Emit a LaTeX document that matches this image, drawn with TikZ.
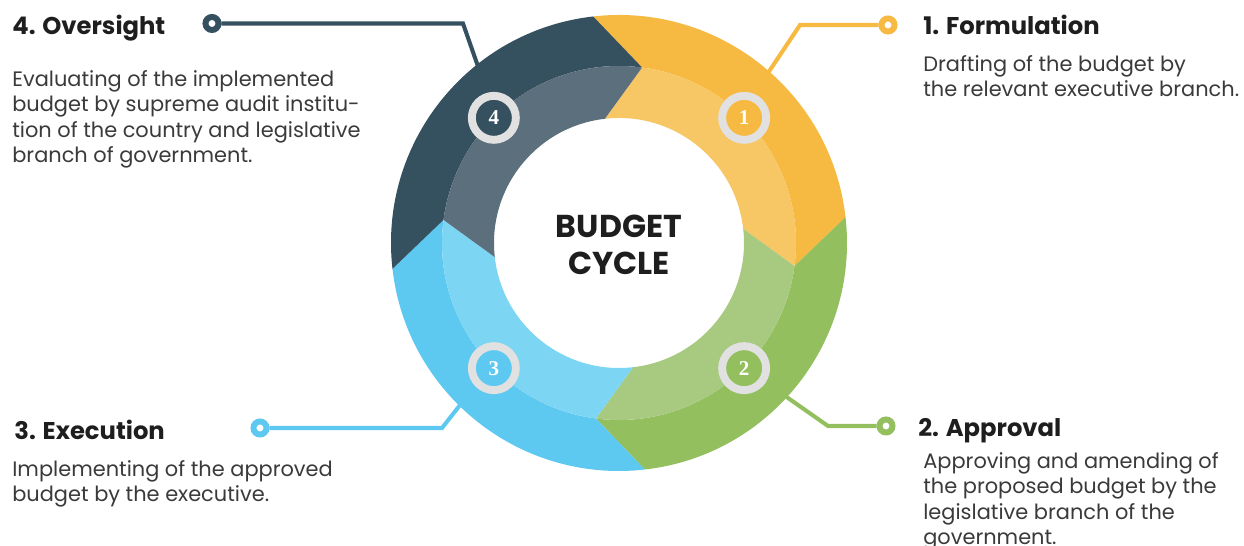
\documentclass[tikz,border=0pt]{standalone}
\usepackage{fontspec}
\setmainfont{Poppins}
\newfontfamily\numfont{Liberation Serif}
\usetikzlibrary{positioning}

\definecolor{navy}{HTML}{35505F}
\definecolor{navylight}{HTML}{5B6F7D}
\definecolor{amber}{HTML}{F6B941}
\definecolor{amberlight}{HTML}{F7C665}
\definecolor{leaf}{HTML}{93BF5F}
\definecolor{leaflight}{HTML}{A8CA80}
\definecolor{sky}{HTML}{5DC9F1}
\definecolor{skylight}{HTML}{7DD5F4}
\definecolor{ringgray}{HTML}{E1E1E1}
\definecolor{ink}{HTML}{1E1E1E}
\definecolor{bodygray}{HTML}{3A3A3A}

\tikzset{
    head/.style={anchor=base west, inner sep=0pt, text=ink, font=\fontsize{13.8}{16}\selectfont\bfseries},
    desc/.style={anchor=base west, inner sep=0pt, text=bodygray, align=left, font=\fontsize{11.9}{14.6}\selectfont},
    badge/.style={circle, draw=ringgray, fill=#1, line width=4.5pt, minimum size=0.88cm, inner sep=0pt, text=white, font=\numfont\bfseries\fontsize{12}{12}\selectfont},
    endpt/.style={circle, draw=#1, fill=white, line width=3.4pt, minimum size=0.26cm, inner sep=0pt},
    link/.style={line width=2.3pt, draw=#1},
}

\begin{document}
\begin{tikzpicture}[x=0.02cm, y=0.02cm]
        \useasboundingbox (-619,-303) rectangle (625,243);

        \coordinate (r1) at (145,164);
        \coordinate (k1) at (181,218);
        \coordinate (r2) at (159,-148);
        \coordinate (k2) at (209,-183);
        \coordinate (r3) at (-155,-157);
        \coordinate (k3) at (-177,-185);
        \coordinate (r4) at (-138,168);
        \coordinate (k4) at (-156,219.5);
        \node[endpt=amber] (e1) at (269,218) {};
        \node[endpt=leaf] (e2) at (267,-183) {};
        \node[endpt=sky] (e3) at (-359,-185) {};
        \node[endpt=navy] (e4) at (-407,219.5) {};
        \draw[link=amber] (e1) -- (k1) -- (r1);
        \draw[link=leaf] (e2) -- (k2) -- (r2);
        \draw[link=sky] (e3) -- (k3) -- (r3);
        \draw[link=navy] (e4) -- (k4) -- (r4);

        \foreach \a/\dk/\lt in {96.5/amber/amberlight, 6.5/leaf/leaflight, -83.5/sky/skylight, -173.5/navy/navylight}
        {
            \pgfmathsetmacro\b{\a-90}
            \fill[\dk] (\a:228) arc[start angle=\a, end angle=\b, radius=228] -- (\b-14:177)
                arc[start angle=\b-14, end angle=\a-14, radius=177] -- cycle;
            \fill[\lt] (\a-14:177) arc[start angle=\a-14, end angle=\b-14, radius=177] -- (\b:125)
                arc[start angle=\b, end angle=\a, radius=125] -- cycle;
        }

        \node[badge=amber] (b1) at (45:177) {1};
        \node[badge=leaf] (b2) at (-45:177) {2};
        \node[badge=sky] (b3) at (-135:177) {3};
        \node[badge=navy] (b4) at (135:177) {4};

        \node[align=center, text=ink, font=\fontsize{18}{21}\selectfont\bfseries] (core) at (0,-2) {BUDGET\\CYCLE};

        \node[head] (h1) at (304,208) {1. Formulation};
        \node[desc] (d1) at (304,146) {Drafting of the budget by\\the relevant executive branch.};
        \node[head] (h2) at (299,-194) {2. Approval};
        \node[desc] (d2) at (304,-302) {Approving and amending of\\the proposed budget by the\\legislative branch of the\\government.};
        \node[head] (h3) at (-605,-197) {3. Execution};
        \node[desc] (d3) at (-607,-259) {Implementing of the approved\\budget by the executive.};
        \node[head] (h4) at (-607,208) {4. Oversight};
        \node[desc] (d4) at (-607,80) {Evaluating of the implemented\\budget by supreme audit institu-\\tion of the country and legislative\\branch of government.};
\end{tikzpicture}
\end{document}
